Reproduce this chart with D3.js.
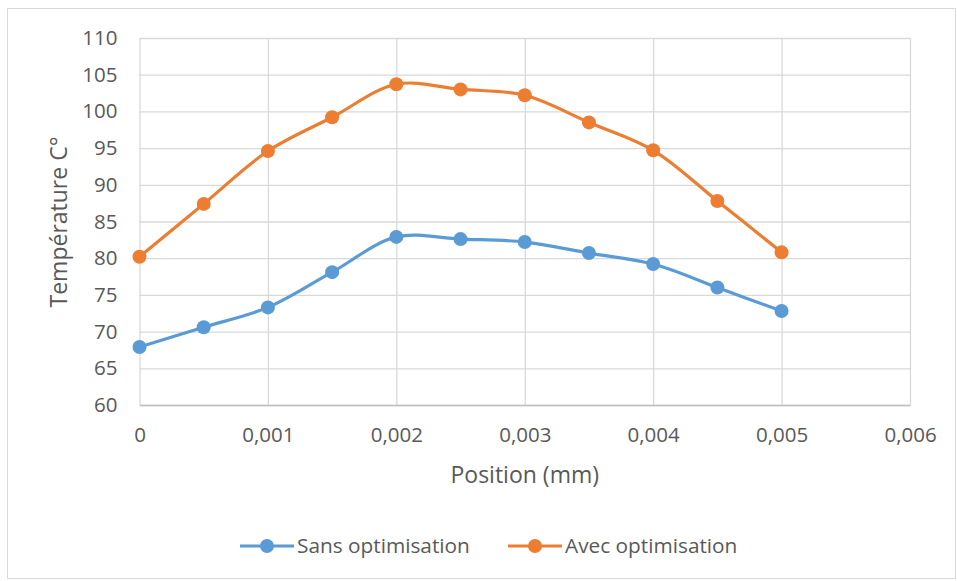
<!DOCTYPE html>
<html>
<head>
<meta charset="utf-8">
<script src="https://cdn.jsdelivr.net/npm/d3@7"></script>
<style>
  html, body { margin: 0; padding: 0; background: #fff; }
  svg { display: block; font-family: "Open Sans", sans-serif; }
</style>
</head>
<body>
<svg id="chart" width="957" height="581"></svg>
<script>
// Positions along the part (mm)
const positions = [0, 0.0005, 0.001, 0.0015, 0.002, 0.0025, 0.003, 0.0035, 0.004, 0.0045, 0.005];
// Temperatures (°C) for each configuration
const sansOptimisation = [67.9, 70.6, 73.3, 78.1, 82.9, 82.6, 82.2, 80.7, 79.2, 76.0, 72.8];
const avecOptimisation = [80.2, 87.4, 94.6, 99.2, 103.7, 103.0, 102.2, 98.5, 94.7, 87.8, 80.8];
const seriesNames = ["Sans optimisation", "Avec optimisation"];
const seriesColors = ["#5B9BD5", "#ED7D31"];
const xTicks = [0, 0.001, 0.002, 0.003, 0.004, 0.005, 0.006];
const yTicks = [60, 65, 70, 75, 80, 85, 90, 95, 100, 105, 110];

const svg = d3.select("#chart");
const W = 957, H = 581;
const plot = { left: 139.5, right: 910, top: 38, bottom: 405 };
const textColor = "#595959";

// chart frame
svg.append("rect")
  .attr("x", 7.5).attr("y", 8.5)
  .attr("width", W - 9).attr("height", H - 11)
  .attr("fill", "#fff").attr("stroke", "#d9d9d9").attr("stroke-width", 1);

const x = d3.scaleLinear().domain([0, 0.006]).range([plot.left, plot.right]);
const y = d3.scaleLinear().domain([60, 110]).range([plot.bottom, plot.top]);

const fmt = v => v === 0 ? "0" : d3.format(".3f")(v).replace(".", ",");

// horizontal gridlines
svg.append("g")
  .attr("transform", `translate(${plot.left},0)`)
  .call(d3.axisLeft(y).tickValues(yTicks).tickSize(-(plot.right - plot.left)).tickFormat(""))
  .call(g => g.select(".domain").remove())
  .call(g => g.selectAll("line").attr("stroke", "#d9d9d9").attr("stroke-width", 1.3));

// vertical gridlines
svg.append("g")
  .attr("transform", `translate(0,${plot.bottom})`)
  .call(d3.axisBottom(x).tickValues(xTicks).tickSize(-(plot.bottom - plot.top)).tickFormat(""))
  .call(g => g.select(".domain").remove())
  .call(g => g.selectAll("line").attr("stroke", "#d9d9d9").attr("stroke-width", 1.3));

// x axis line and labels
const xAxis = svg.append("g")
  .attr("transform", `translate(0,${plot.bottom})`)
  .call(d3.axisBottom(x).tickValues(xTicks).tickSize(0).tickPadding(22).tickFormat(fmt));
xAxis.select(".domain").attr("stroke", "#bfbfbf").attr("stroke-width", 1.5);
xAxis.selectAll("text").attr("fill", textColor).attr("font-size", 20.5)
  .attr("font-family", "'Open Sans', sans-serif");

// y axis labels
const yAxis = svg.append("g")
  .attr("transform", `translate(${plot.left},0)`)
  .call(d3.axisLeft(y).tickValues(yTicks).tickSize(0).tickPadding(22));
yAxis.select(".domain").remove();
yAxis.selectAll("text").attr("fill", textColor).attr("font-size", 20.5)
  .attr("font-family", "'Open Sans', sans-serif");

// axis titles
svg.append("text")
  .attr("x", (plot.left + plot.right) / 2).attr("y", 483)
  .attr("text-anchor", "middle").attr("fill", textColor).attr("font-size", 23)
  .text("Position (mm)");
svg.append("text")
  .attr("transform", `translate(67,222) rotate(-90)`)
  .attr("text-anchor", "middle").attr("fill", textColor).attr("font-size", 23)
  .text("Température C°");

// series lines and markers
const line = d3.line()
  .x((d, i) => x(positions[i]))
  .y(d => y(d))
  .curve(d3.curveCatmullRom.alpha(0.5));

[sansOptimisation, avecOptimisation].forEach((vals, s) => {
  const g = svg.append("g");
  g.append("path")
    .datum(vals)
    .attr("d", line)
    .attr("fill", "none")
    .attr("stroke", seriesColors[s])
    .attr("stroke-width", 3.2)
    .attr("stroke-linejoin", "round");
  g.selectAll("circle")
    .data(vals)
    .join("circle")
    .attr("cx", (d, i) => x(positions[i]))
    .attr("cy", d => y(d))
    .attr("r", 7)
    .attr("fill", seriesColors[s]);
});

// legend
const legendItems = [
  { x0: 240, label: seriesNames[0], color: seriesColors[0] },
  { x0: 508, label: seriesNames[1], color: seriesColors[1] }
];
const ly = 546;
legendItems.forEach(it => {
  const g = svg.append("g");
  g.append("line")
    .attr("x1", it.x0).attr("x2", it.x0 + 54)
    .attr("y1", ly).attr("y2", ly)
    .attr("stroke", it.color).attr("stroke-width", 3.2);
  g.append("circle")
    .attr("cx", it.x0 + 27).attr("cy", ly).attr("r", 7)
    .attr("fill", it.color);
  g.append("text")
    .attr("x", it.x0 + 57).attr("y", ly).attr("dy", "0.35em")
    .attr("fill", textColor).attr("font-size", 20.8)
    .text(it.label);
});
</script>
</body>
</html>
